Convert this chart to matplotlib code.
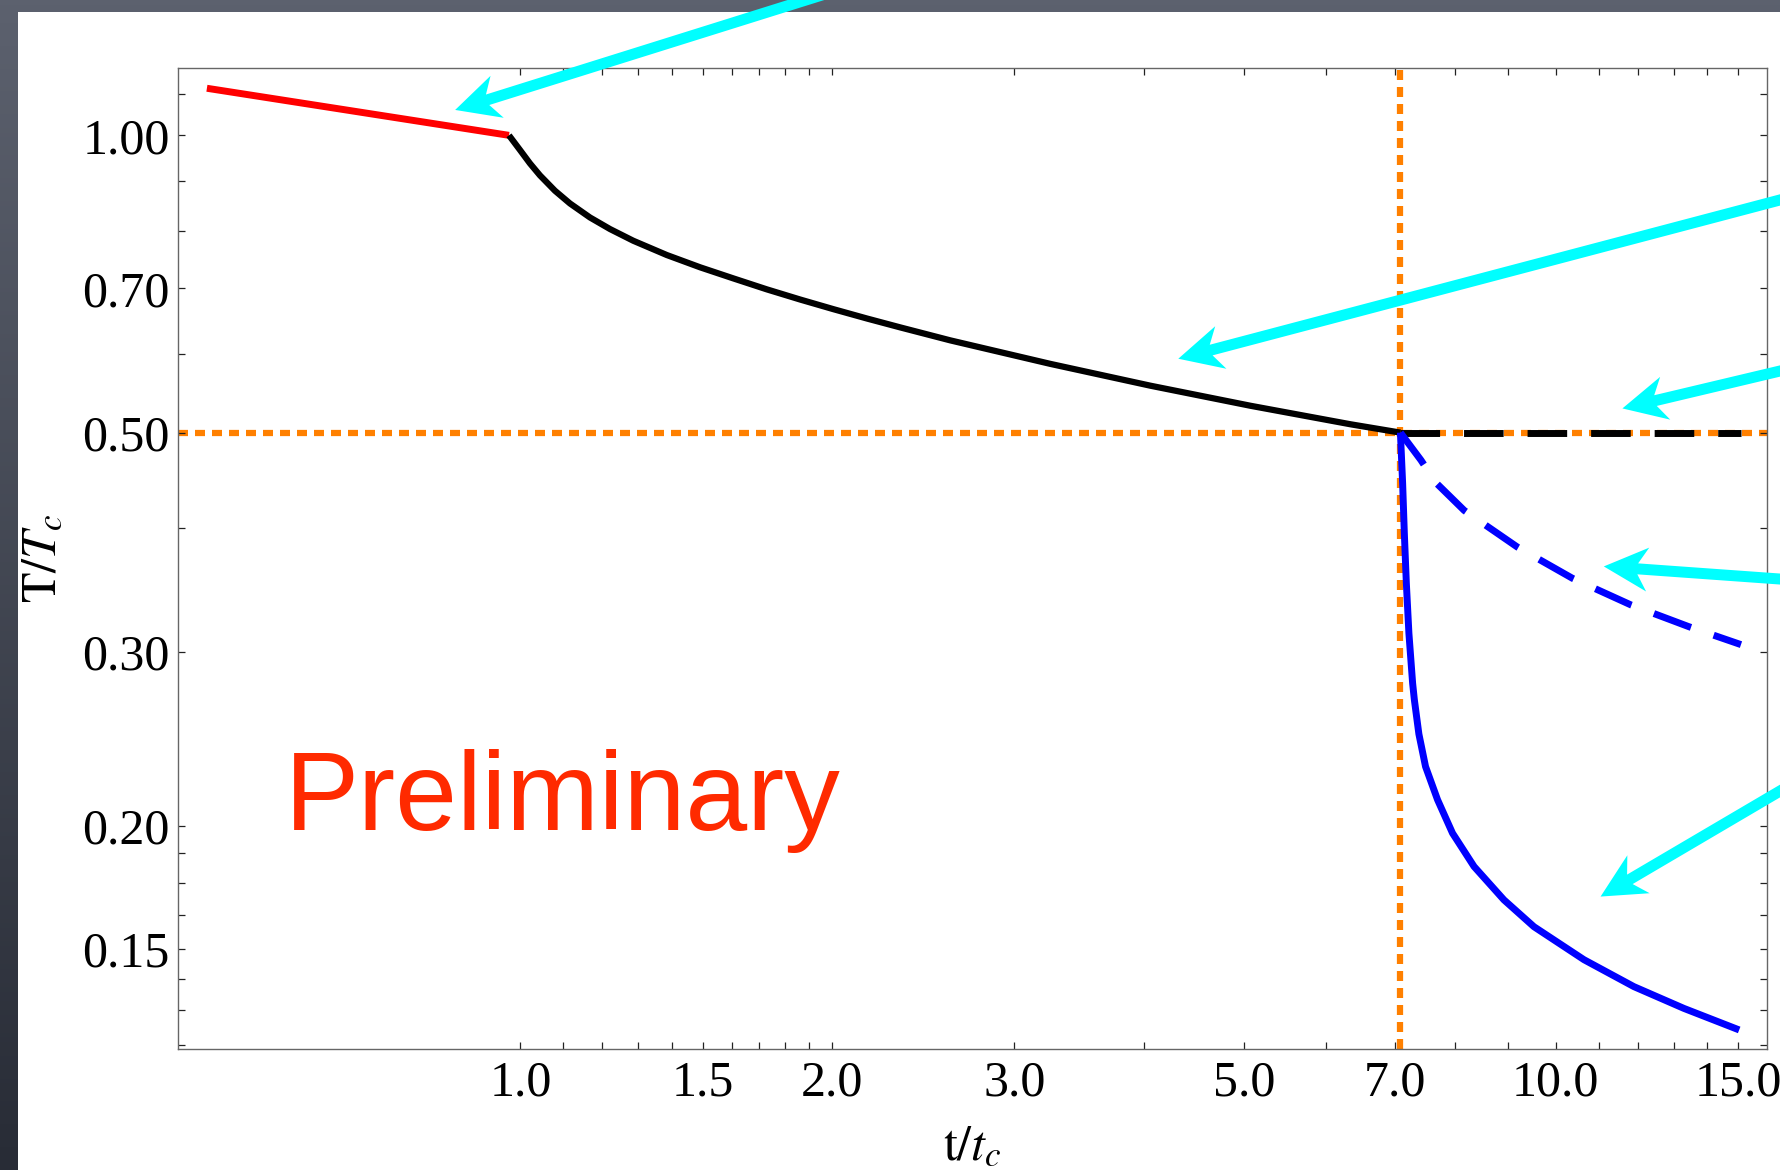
import numpy as np
import matplotlib
matplotlib.use('Agg')
import matplotlib.pyplot as plt
from matplotlib.patches import Rectangle, Polygon
from matplotlib.ticker import FixedLocator, FixedFormatter, NullFormatter

plt.rcParams['font.family'] = ['Liberation Serif', 'DejaVu Serif']
plt.rcParams['mathtext.fontset'] = 'stix'

# ---------------- data ----------------
red_t = [0.498, 0.975]
red_T = [1.116, 1.0]

black_t = [0.975, 0.9991, 1.0216, 1.0446, 1.0800, 1.1167, 1.1675, 1.2207,
           1.2855, 1.3849, 1.4917, 1.6063, 1.7299, 1.8634, 2.0068,
           2.1615, 2.3280, 2.6016, 3.2505, 4.0605, 5.0727, 6.3375, 7.08]
black_T = [1.0, 0.9665, 0.9366, 0.9108, 0.8788, 0.8531, 0.8257, 0.8037,
           0.7821, 0.7565, 0.7351, 0.7163, 0.6983, 0.6819, 0.6667,
           0.6524, 0.6390, 0.6200, 0.5869, 0.5578, 0.5323, 0.5098, 0.500]

black_dash_t = [7.08, 15.1]
black_dash_T = [0.5, 0.5]

blue_dash_t = [7.08, 7.41, 7.66, 8.16, 9.18, 10.38, 11.82, 13.45, 15.1]
blue_dash_T = [0.500, 0.469, 0.445, 0.417, 0.383, 0.356, 0.3346, 0.318, 0.305]

blue_t = [7.08, 7.115, 7.142, 7.174, 7.215, 7.275, 7.303, 7.377, 7.487, 7.69,
          7.95, 8.34, 8.913, 9.528, 10.65, 11.90, 13.30, 15.04]
blue_T = [0.500, 0.4443, 0.3955, 0.3520, 0.3132, 0.2787, 0.2682, 0.2476, 0.2295,
          0.2124, 0.1965, 0.1818, 0.1682, 0.1580, 0.1463, 0.1374, 0.1306, 0.1242]

t_star = 7.08
T_star = 0.5

x_major = [1.0, 1.5, 2.0, 3.0, 5.0, 7.0, 10.0, 15.0]
x_labels = ['1.0', '1.5', '2.0', '3.0', '5.0', '7.0', '10.0', '15.0']
x_minor = [1.1, 1.2, 1.3, 1.4, 1.6, 1.7, 1.8, 1.9, 4, 6, 8, 9, 11, 12, 13, 14]
y_major = [1.0, 0.7, 0.5, 0.3, 0.2, 0.15]
y_labels = ['1.00', '0.70', '0.50', '0.30', '0.20', '0.15']
y_minor = [1.1, 0.9, 0.8, 0.6, 0.4, 0.1875, 0.175, 0.1625, 0.14, 0.13, 0.12]

# annotation arrows: head in data coords, tail in figure fraction
arrow_heads = [(0.865, 1.061), (4.32, 0.594), (11.6, 0.529), (11.13, 0.366), (11.05, 0.1695)]
arrow_tails = [(0.4528, 1.0), (1.0, 0.8291), (1.0, 0.6829), (1.0, 0.5051), (1.0, 0.3239)]

# ---------------- figure ----------------
W, H = 1780, 1170
fig = plt.figure(figsize=(W / 100, H / 100), dpi=100)

# slide background
bg = fig.add_axes([0, 0, 1, 1], zorder=-10)
top_c = np.array([92, 97, 110]) / 255
bot_c = np.array([40, 44, 54]) / 255
g = np.linspace(0, 1, 256)[:, None]
grad = top_c[None, None, :] * (1 - g[..., None]) + bot_c[None, None, :] * g[..., None]
grad = np.repeat(grad, 4, axis=1)
bg.imshow(grad, aspect='auto', extent=[0, 1, 0, 1])
bg.set_axis_off()

fig.add_artist(Rectangle((18 / W, 0), 1, (H - 12) / H, transform=fig.transFigure,
                         facecolor='white', edgecolor='none', zorder=-5))

ax = fig.add_axes([178 / W, 121 / H, 1589 / W, 981 / H])
ax.set_facecolor('white')
ax.set_xscale('log')
ax.set_yscale('log')
ax.set_xlim(0.467, 16.0)
ax.set_ylim(0.1188, 1.17)

ax.xaxis.set_major_locator(FixedLocator(x_major))
ax.xaxis.set_major_formatter(FixedFormatter(x_labels))
ax.xaxis.set_minor_locator(FixedLocator(x_minor))
ax.xaxis.set_minor_formatter(NullFormatter())
ax.yaxis.set_major_locator(FixedLocator(y_major))
ax.yaxis.set_major_formatter(FixedFormatter(y_labels))
ax.yaxis.set_minor_locator(FixedLocator(y_minor))
ax.yaxis.set_minor_formatter(NullFormatter())

ax.tick_params(which='both', direction='in', length=5, width=0.9, color='#222222',
               top=True, right=True, labelsize=36)
ax.tick_params(axis='x', which='both', pad=8.0)
ax.tick_params(axis='y', which='both', pad=5.8)
for s in ax.spines.values():
    s.set_color('#666666')
    s.set_linewidth(1.0)

# reference lines
orange = '#ff8000'
ax.axhline(T_star, color=orange, lw=4.5, linestyle=(0, (1.6, 1.12)), zorder=1)
ax.axvline(t_star, color=orange, lw=4.5, linestyle=(0, (1.6, 1.12)), zorder=1)

# curves
ax.plot(red_t, red_T, color='#ff0000', lw=5, solid_capstyle='butt', zorder=3)
ax.plot(black_t, black_T, color='black', lw=4.5, solid_capstyle='butt',
        solid_joinstyle='round', zorder=3)
ax.plot(black_dash_t, black_dash_T, color='black', lw=5, linestyle=(0, (5.7, 3.45)),
        dash_capstyle='butt', zorder=3)
ax.plot(blue_dash_t, blue_dash_T, color='#0000ff', lw=5, linestyle=(0, (5.7, 3.45)),
        dash_capstyle='butt', zorder=3)
ax.plot(blue_t, blue_T, color='#0000ff', lw=5, solid_capstyle='butt',
        solid_joinstyle='round', zorder=4)

ax.set_xlabel(r'$\mathrm{t}/t_c$', fontsize=36)
ax.xaxis.set_label_coords(0.5, -0.076)
ax.set_ylabel(r'$\mathrm{T}/T_c$', fontsize=36)
ax.yaxis.set_label_coords(-0.070, 0.5)

fig.text(285 / W, (H - 830) / H, 'Preliminary', family='Liberation Sans',
         fontsize=80, color='#ff2a00', va='baseline', ha='left', zorder=6)

# cyan annotation arrows
def arrow_polygon(tip, tail, w=5.5, L=44.0, Hh=22.0, N=34.0):
    tip = np.asarray(tip, float)
    tail = np.asarray(tail, float)
    d = tail - tip
    u = d / np.hypot(*d)
    n = np.array([-u[1], u[0]])
    far = tip + d * 1.4
    return [tip, tip + L * u + Hh * n, tip + N * u + w * n, far + w * n,
            far - w * n, tip + N * u - w * n, tip + L * u - Hh * n]

for head, tail in zip(arrow_heads, arrow_tails):
    tip_px = ax.transData.transform(head)
    tail_px = np.array(tail) * np.array([W, H])
    pts = np.array(arrow_polygon(tip_px, tail_px)) / np.array([W, H])
    fig.add_artist(Polygon(pts, closed=True, transform=fig.transFigure,
                           facecolor='#00ffff', edgecolor='none', zorder=8,
                           clip_on=False))

fig.savefig('out.png', dpi=100)
